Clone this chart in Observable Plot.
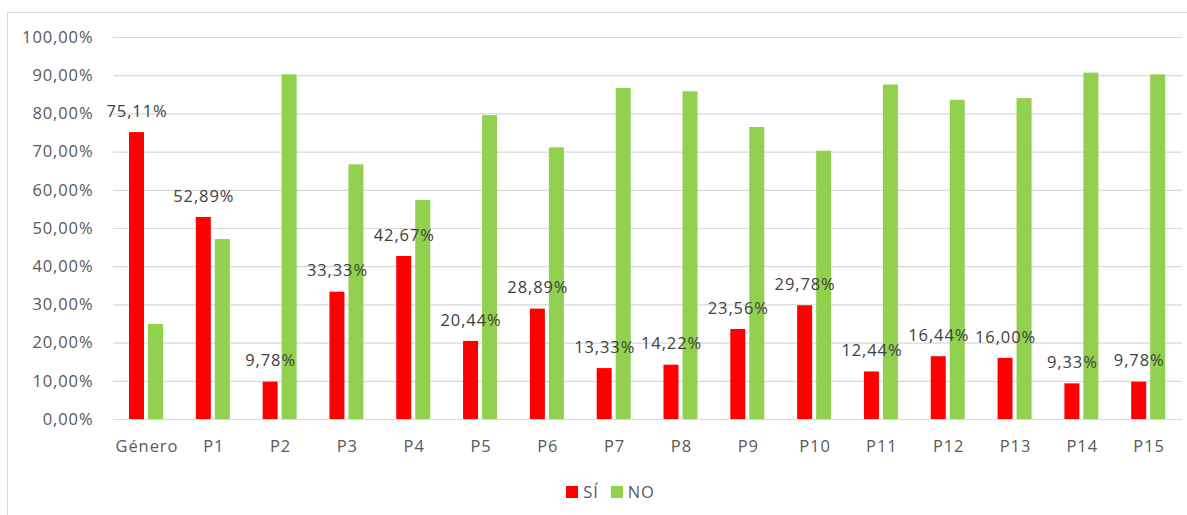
<!DOCTYPE html>
<html>
<head>
<meta charset="utf-8">
<script src="https://cdn.jsdelivr.net/npm/d3@7"></script>
<script src="https://cdn.jsdelivr.net/npm/@observablehq/plot@0.6"></script>
<style>
  html, body { margin: 0; padding: 0; background: #fff; }
  #wrap { position: relative; width: 1187px; height: 515px; overflow: hidden; font-family: "Open Sans", sans-serif; }
  #border { position: absolute; left: 7px; top: 12px; width: 1200px; height: 520px; border: 1px solid #d9d9d9; box-sizing: border-box; }
  #chart { position: absolute; left: 0; top: 0; }
  #chart svg text { letter-spacing: 0.9px; }
  #legend { position: absolute; left: 0; top: 480px; width: 1187px; display: flex; justify-content: center; padding-left: 34px; box-sizing: border-box; font-size: 16.5px; letter-spacing: 0.9px; color: #595959; align-items: center; }
  .item { display: flex; align-items: center; margin: 0 6px; }
  .sw { width: 12px; height: 12px; margin-right: 5px; }
</style>
</head>
<body>
<div id="wrap">
  <div id="border"></div>
  <div id="chart"></div>
  <div id="legend"></div>
</div>
<script>
const categories = ["Género","P1","P2","P3","P4","P5","P6","P7","P8","P9","P10","P11","P12","P13","P14","P15"];
const si = [75.11, 52.89, 9.78, 33.33, 42.67, 20.44, 28.89, 13.33, 14.22, 23.56, 29.78, 12.44, 16.44, 16.00, 9.33, 9.78];
const no = [24.89, 47.11, 90.22, 66.67, 57.33, 79.56, 71.11, 86.67, 85.78, 76.44, 70.22, 87.56, 83.56, 84.00, 90.67, 90.22];
const seriesNames = ["SÍ", "NO"];
const seriesColors = ["#FF0000", "#92D050"];
const yTicks = [0,10,20,30,40,50,60,70,80,90,100];

const fmt = v => v.toFixed(2).replace(".", ",") + "%";

const siData = categories.map((c, i) => ({cat: c, v: si[i]}));
const noData = categories.map((c, i) => ({cat: c, v: no[i]}));

const W = 1187, left = 113, right = 1182;
const bw = (right - left) / categories.length;
const barW = 15;

const chart = Plot.plot({
  width: W,
  height: 465,
  marginLeft: left,
  marginRight: W - right,
  marginTop: 37,
  marginBottom: 46,
  style: {fontFamily: "Open Sans, sans-serif", background: "transparent"},
  x: {domain: categories, padding: 0, round: false, label: null},
  y: {domain: [0, 100], label: null},
  marks: [
    Plot.ruleY(yTicks, {stroke: "#d9d9d9", strokeWidth: 1.2}),
    Plot.barY(siData, {x: "cat", y: "v", fill: seriesColors[0], insetLeft: 16, insetRight: bw - 16 - barW}),
    Plot.barY(noData, {x: "cat", y: "v", fill: seriesColors[1], insetLeft: 35, insetRight: bw - 35 - barW}),
    Plot.text(siData, {x: "cat", y: "v", text: d => fmt(d.v), dx: 16 + barW / 2 - bw / 2, dy: -21, fill: "#404040", fontSize: 16.5}),
    Plot.axisX({tickSize: 0, tickPadding: 21, fontSize: 16.5, fill: "#595959"}),
    Plot.axisY({ticks: yTicks, tickFormat: fmt, tickSize: 0, tickPadding: 20, fontSize: 16.5, fill: "#595959"})
  ]
});
document.getElementById("chart").appendChild(chart);

const legend = document.getElementById("legend");
seriesNames.forEach((n, i) => {
  const it = document.createElement("div");
  it.className = "item";
  const sw = document.createElement("div");
  sw.className = "sw";
  sw.style.background = seriesColors[i];
  const t = document.createElement("span");
  t.textContent = n;
  it.appendChild(sw); it.appendChild(t);
  legend.appendChild(it);
});
</script>
</body>
</html>
